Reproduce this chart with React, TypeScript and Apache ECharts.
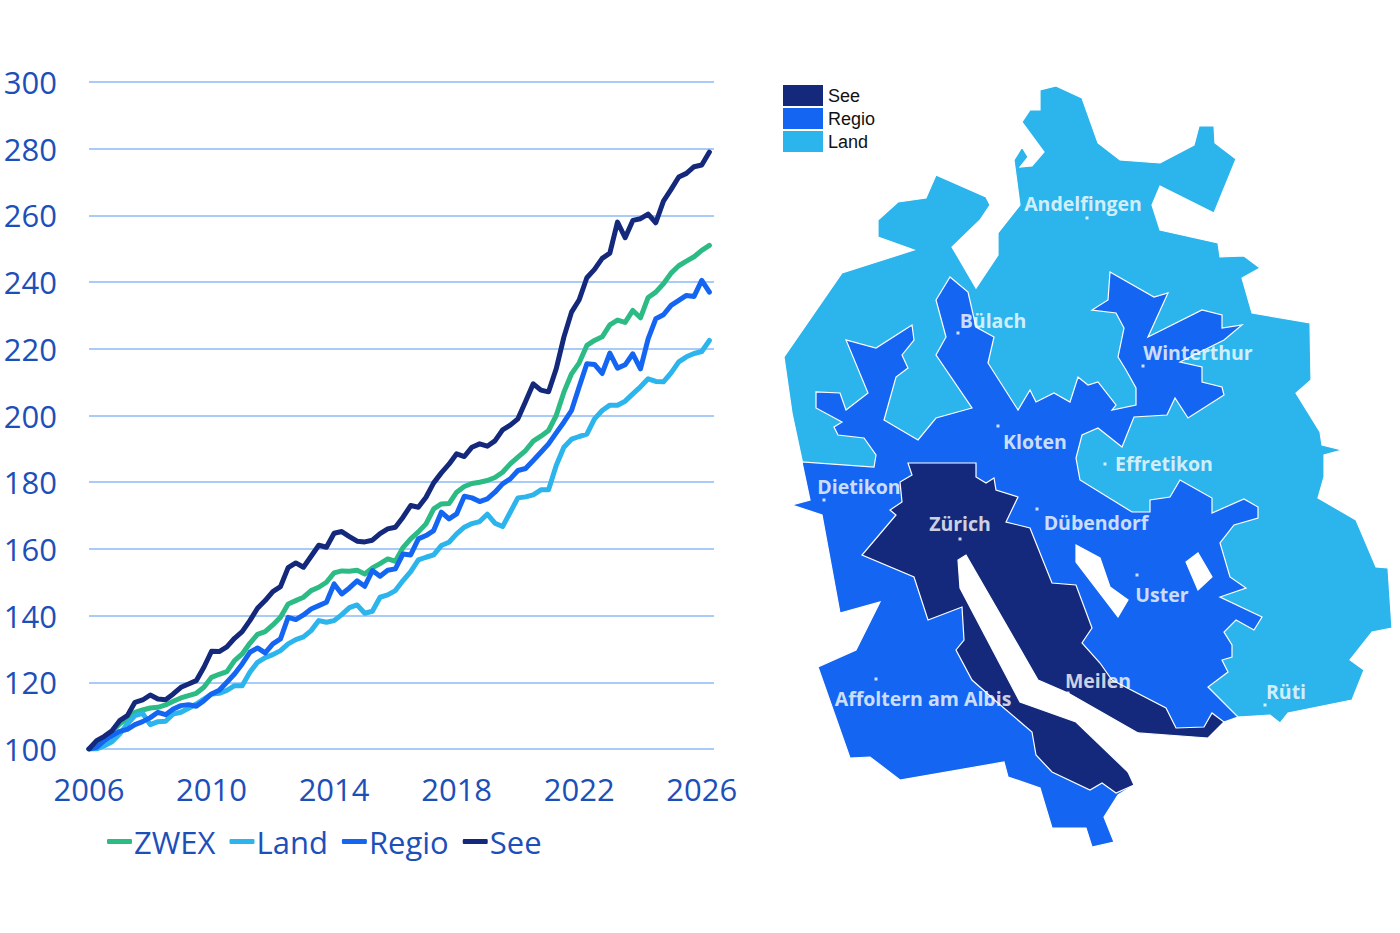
import React, { useEffect, useRef } from "react";
import * as echarts from "echarts";

// ---------- Line chart data (quarterly index, 2006 Q1 = 100) ----------
const START_YEAR = 2006;
const SERIES_NAMES = ["ZWEX", "Land", "Regio", "See"];
const X_TICK_YEARS = [2006, 2010, 2014, 2018, 2022, 2026];
const Y_TICKS = [100, 120, 140, 160, 180, 200, 220, 240, 260, 280, 300];

const ZWEX = [
  100, 101.5, 103.5, 105.2, 107.5, 109, 111, 111.7, 112.3, 112.5, 113.2, 114.3,
  115.3, 116, 116.7, 118.5, 121.5, 122.4, 123.2, 126.5, 128.5, 131.7, 134.4, 135.2,
  137.2, 139.5, 143.5, 144.5, 145.5, 147.5, 148.5, 150, 152.8, 153.4, 153.3, 153.6,
  152.5, 154.3, 155.6, 157, 156.3, 160.4, 163, 165.1, 167.5, 172, 173.5, 173.6,
  177, 178.7, 179.6, 180, 180.5, 181.4, 183, 185.5, 187.5, 189.5, 192.3, 193.8,
  195.5, 200, 207, 212.5, 215.8, 221, 222.5, 223.6, 227.2, 228.6, 227.9, 231.5,
  229.3, 235.4, 237, 239.5, 242.7, 244.9, 246.3, 247.6, 249.5, 251,
];
const LAND = [
  100, 100, 101, 102.2, 104.5, 107.5, 110, 110.7, 107.3, 108.2, 108.3, 110.5,
  111, 112.2, 113.5, 115, 116.5, 116.7, 117.6, 119, 119, 123, 126, 127.4,
  128.3, 129.5, 131.5, 132.8, 133.6, 135.5, 138.5, 138, 138.5, 140.3, 142.4, 143.2,
  140.7, 141.3, 145.5, 146.2, 147.5, 150.5, 153.2, 156.7, 157.5, 158.2, 161, 162,
  164.5, 166.5, 167.6, 168.2, 170.4, 167.7, 166.7, 171, 175.3, 175.6, 176.2, 177.7,
  177.7, 185, 190.5, 192.9, 193.7, 194.4, 199, 201.5, 203.1, 203.1, 204.3, 206.5,
  208.6, 211, 210.2, 210.1, 212.8, 216.1, 217.6, 218.6, 219.2, 222.5,
];
const REGIO = [
  100, 100.5, 102.5, 104, 105.3, 105.9, 107.3, 108.2, 109.4, 111, 110.3, 112,
  113, 113.3, 112.8, 114.5, 116.5, 117.6, 120, 122.5, 125.5, 129, 130.3, 128.8,
  131.5, 133, 139.5, 138.8, 140.2, 142, 143, 144, 149.5, 146.5, 148.3, 150.4,
  148.8, 153.5, 151.8, 153.6, 154, 158.5, 158.2, 163, 164, 165.5, 171, 169,
  170.5, 175.8, 175.3, 174.2, 175, 177, 179.5, 181, 183.5, 184.1, 186.5, 189,
  191.5, 194.8, 198, 201.5, 208.6, 215.5, 215.3, 212.6, 218.7, 214.2, 215.2, 218.5,
  214, 223, 229, 230.2, 233, 234.5, 236, 235.7, 240.5, 237,
];
const SEE = [
  100, 102.5, 103.8, 105.5, 108.5, 110, 114, 114.7, 116.2, 115, 114.8, 116.5,
  118.5, 119.5, 120.5, 124.5, 129.3, 129.2, 130.6, 133.2, 135.2, 138.5, 142.2, 144.5,
  147.2, 148.7, 154.4, 155.8, 154.5, 157.8, 161.1, 160.5, 164.7, 165.2, 163.7, 162.3,
  162.1, 162.6, 164.6, 166, 166.5, 169.5, 173, 172.5, 175.5, 179.8, 182.8, 185.4,
  188.5, 187.7, 190.5, 191.5, 190.8, 192.4, 195.7, 197.1, 199, 204.2, 209.5, 207.6,
  207.1, 214, 223.5, 231, 234.7, 241.3, 243.8, 247.1, 248.7, 258, 253.3, 258.5,
  259, 260.4, 257.8, 264.3, 267.8, 271.5, 272.6, 274.6, 275.1, 279,
];
const SERIES_VALUES = [ZWEX, LAND, REGIO, SEE];
const SERIES_COLORS = ["#2dbb85", "#2cb4ec", "#1466f2", "#14297b"];

// ---------- Map data (region outlines, screen units) ----------
const MAP_CATEGORIES = ["See", "Regio", "Land"];
const LAND_OUTLINE = [
  [1040, 90], [1056, 86], [1082, 98], [1098, 143], [1120, 160], [1160, 163], [1194, 145],
  [1199, 126], [1214, 126], [1215, 143], [1236, 159], [1214, 213], [1160, 186], [1152, 205],
  [1160, 230], [1218, 243], [1220, 257], [1244, 256], [1260, 268], [1242, 278], [1252, 313],
  [1310, 323], [1311, 380], [1296, 393], [1320, 432], [1322, 445], [1342, 450], [1324, 455],
  [1324, 477], [1318, 498], [1356, 520], [1376, 567], [1388, 568], [1392, 628], [1372, 632],
  [1350, 660], [1364, 670], [1352, 700], [1288, 713], [1280, 723], [1270, 715], [1238, 717],
  [1224, 722], [1208, 738], [1138, 733], [1128, 772], [1134, 785], [1118, 795], [1104, 817],
  [1114, 842], [1092, 847], [1086, 828], [1052, 828], [1040, 788], [1008, 777], [1004, 762],
  [900, 780], [870, 757], [850, 758], [818, 667], [856, 650], [880, 602], [840, 613],
  [822, 515], [792, 505], [810, 500], [802, 460], [792, 413], [784, 357], [842, 273],
  [914, 250], [878, 237], [878, 220], [898, 202], [926, 198], [936, 175], [986, 197],
  [990, 205], [980, 220], [952, 247], [976, 288], [998, 255], [998, 233], [1020, 205],
  [1014, 160], [1022, 147], [1028, 157], [1020, 167], [1032, 166], [1044, 152], [1022, 122],
  [1030, 110], [1040, 110],
];
const REGIO_OUTLINE = [
  [792, 505], [810, 500], [802, 462], [874, 467], [876, 455], [864, 438], [838, 435],
  [834, 427], [842, 422], [816, 408], [816, 392], [840, 393], [846, 410], [868, 393],
  [846, 340], [876, 348], [912, 325], [914, 340], [902, 355], [908, 368], [896, 377],
  [884, 420], [918, 440], [936, 418], [972, 408], [936, 355], [946, 337], [936, 300],
  [950, 277], [968, 292], [976, 327], [994, 337], [988, 363], [1018, 410], [1030, 390],
  [1036, 402], [1054, 393], [1070, 402], [1078, 377], [1088, 385], [1098, 382], [1116, 405],
  [1112, 410], [1136, 405], [1136, 388], [1126, 370], [1118, 357], [1124, 328], [1116, 313],
  [1092, 310], [1108, 300], [1110, 272], [1154, 297], [1168, 293], [1148, 337], [1202, 310],
  [1222, 315], [1222, 328], [1242, 325], [1224, 340], [1180, 362], [1202, 367], [1202, 382],
  [1222, 387], [1224, 395], [1188, 418], [1175, 398], [1167, 415], [1134, 417], [1122, 447],
  [1098, 428], [1082, 435], [1076, 458], [1080, 480], [1132, 512], [1150, 512], [1150, 500],
  [1170, 497], [1180, 480], [1212, 498], [1212, 513], [1244, 499], [1258, 507], [1258, 518],
  [1234, 525], [1220, 543], [1230, 577], [1246, 588], [1220, 597], [1262, 617], [1254, 630],
  [1236, 620], [1224, 632], [1232, 645], [1232, 657], [1222, 660], [1228, 672], [1208, 687],
  [1238, 717], [1224, 722], [1208, 738], [1138, 733], [1128, 772], [1134, 785], [1118, 795],
  [1104, 817], [1114, 842], [1092, 847], [1086, 828], [1052, 828], [1040, 788], [1008, 777],
  [1004, 762], [900, 780], [870, 757], [850, 758], [818, 667], [856, 650], [880, 602],
  [840, 613], [822, 515],
];
const SEE_OUTLINE = [
  [908, 463], [976, 463], [976, 477], [986, 483], [994, 478], [996, 490], [1018, 497],
  [1006, 522], [1030, 528], [1052, 583], [1076, 585], [1092, 628], [1082, 643], [1100, 663],
  [1112, 680], [1166, 708], [1176, 728], [1204, 727], [1212, 713], [1224, 722], [1208, 738],
  [1138, 733], [1128, 772], [1134, 785], [1116, 793], [1102, 783], [1090, 790], [1052, 772],
  [1036, 755], [1032, 732], [998, 703], [972, 680], [956, 650], [964, 640], [962, 607],
  [928, 620], [914, 577], [862, 555], [896, 515], [890, 510], [902, 502], [900, 482],
  [912, 475],
];
const ZUERICHSEE = [
  [966, 555], [1038, 680], [1068, 693], [1138, 733], [1160, 755], [1128, 772], [1076, 722],
  [1020, 702], [960, 588], [958, 560],
];
const GREIFENSEE = [[1076, 545], [1100, 558], [1110, 587], [1128, 600], [1118, 617], [1076, 562]];
const PFAEFFIKERSEE = [[1186, 562], [1198, 553], [1212, 577], [1198, 590]];

const REGIONS = [
  { name: "Land", ring: LAND_OUTLINE, color: "#2cb4ec" },
  { name: "Regio", ring: REGIO_OUTLINE, color: "#1466f2" },
  { name: "See", ring: SEE_OUTLINE, color: "#14297b" },
  { name: "Zürichsee", ring: ZUERICHSEE, color: "#ffffff" },
  { name: "Greifensee", ring: GREIFENSEE, color: "#ffffff" },
  { name: "Pfäffikersee", ring: PFAEFFIKERSEE, color: "#ffffff" },
];

const CITIES = [
  { name: "Andelfingen", pos: [1087, 218], off: [-4, -15] },
  { name: "Bülach", pos: [958, 333], off: [35, -13] },
  { name: "Winterthur", pos: [1143, 366], off: [55, -14] },
  { name: "Kloten", pos: [998, 426], off: [37, 15] },
  { name: "Effretikon", pos: [1105, 464], off: [59, -1] },
  { name: "Dietikon", pos: [824, 500], off: [35, -14] },
  { name: "Zürich", pos: [960, 539], off: [0, -16] },
  { name: "Dübendorf", pos: [1037, 509], off: [59, 13] },
  { name: "Uster", pos: [1137, 575], off: [25, 19] },
  { name: "Meilen", pos: [1068, 693], off: [30, -13] },
  { name: "Affoltern am Albis", pos: [876, 679], off: [47, 19] },
  { name: "Rüti", pos: [1265, 705], off: [21, -14] },
];

const TEXT_BLUE = "#1d4fb9";
const FONT = "'Open Sans', 'Noto Sans', sans-serif";

function buildGeoJson() {
  return {
    type: "FeatureCollection",
    features: REGIONS.map((r) => {
      const ring = r.ring.map(([x, y]) => [x, -y]);
      ring.push(ring[0]);
      return {
        type: "Feature",
        properties: { name: r.name },
        geometry: { type: "Polygon", coordinates: [ring] },
      };
    }),
  };
}

function bbox() {
  let minX = Infinity, minY = Infinity, maxX = -Infinity, maxY = -Infinity;
  REGIONS.forEach((r) =>
    r.ring.forEach(([x, y]) => {
      minX = Math.min(minX, x); maxX = Math.max(maxX, x);
      minY = Math.min(minY, y); maxY = Math.max(maxY, y);
    })
  );
  return { minX, minY, w: maxX - minX, h: maxY - minY };
}

export default function App() {
  const ref = useRef<HTMLDivElement>(null);
  useEffect(() => {
    if (!ref.current) return;
    echarts.registerMap("zh_regions", buildGeoJson() as any);
    const chart = echarts.init(ref.current, undefined, { renderer: "svg" });
    const b = bbox();
    const xMaxYears = 20.4;
    const lineSeries = SERIES_NAMES.map((name, si) => ({
      name,
      type: "line",
      data: SERIES_VALUES[si].map((v, i) => [i / 4, v]),
      showSymbol: false,
      symbol: "none",
      smooth: false,
      color: SERIES_COLORS[si],
      lineStyle: { width: 5, color: SERIES_COLORS[si], cap: "round", join: "round" },
      silent: true,
      z: 2 + si,
    }));
    chart.setOption({
      animation: false,
      grid: { left: 89, top: 82, width: 625, height: 667, containLabel: false, outerBoundsMode: "none" },
      xAxis: {
        type: "value",
        min: 0,
        max: xMaxYears,
        interval: 4,
        axisLine: { show: false },
        axisTick: { show: false },
        splitLine: { show: false },
        axisLabel: {
          fontSize: 31,
          color: TEXT_BLUE,
          fontFamily: FONT,
          margin: 24,
          formatter: (v: number) => {
            const yr = START_YEAR + v;
            return X_TICK_YEARS.includes(Math.round(yr * 1000) / 1000) ? String(yr) : "";
          },
        },
      },
      yAxis: {
        type: "value",
        min: Y_TICKS[0],
        max: Y_TICKS[Y_TICKS.length - 1],
        interval: 20,
        axisLine: { show: false },
        axisTick: { show: false },
        splitLine: { lineStyle: { color: "#a9cbf7", width: 2 } },
        axisLabel: { fontSize: 31, color: TEXT_BLUE, fontFamily: FONT, margin: 32 },
      },
      legend: [
        {
          data: SERIES_NAMES,
          left: 107,
          top: 826,
          padding: 0,
          orient: "horizontal",
          icon: "roundRect",
          itemWidth: 25,
          itemHeight: 5,
          itemGap: 14,
          selectedMode: false,
          itemStyle: { borderWidth: 0 },
          textStyle: { fontSize: 31, color: TEXT_BLUE, fontFamily: FONT, padding: [0, 0, 0, -3] },
        },
        {
          data: MAP_CATEGORIES,
          left: 783,
          top: 85,
          padding: 0,
          orient: "vertical",
          icon: "rect",
          itemWidth: 40,
          itemHeight: 21,
          itemGap: 2,
          selectedMode: false,
          itemStyle: { borderWidth: 0 },
          textStyle: { fontSize: 18, color: "#111111", fontFamily: "'Liberation Sans', Arial, sans-serif" },
        },
      ],
      geo: {
        map: "zh_regions",
        roam: false,
        silent: true,
        aspectScale: 1,
        left: b.minX,
        top: b.minY,
        width: b.w,
        height: b.h,
        label: { show: false },
        emphasis: { disabled: true },
        select: { disabled: true },
        itemStyle: { borderColor: "#ffffff", borderWidth: 1.2 },
        regions: REGIONS.map((r) => ({
          name: r.name,
          itemStyle: { areaColor: r.color, borderColor: "#ffffff", borderWidth: 1.2 },
        })),
      },
      series: [
        ...lineSeries,
        {
          name: "Orte",
          type: "scatter",
          coordinateSystem: "geo",
          geoIndex: 0,
          symbol: "rect",
          symbolSize: 3,
          silent: true,
          itemStyle: { color: "#ffffff" },
          z: 10,
          data: CITIES.map((c) => ({
            name: c.name,
            value: [c.pos[0], -c.pos[1]],
            label: { offset: c.off },
          })),
          label: {
            show: true,
            position: "inside",
            formatter: "{b}",
            color: "#ffffff",
            fontSize: 19.5,
            fontWeight: "bold",
            fontFamily: FONT,
            align: "center",
            verticalAlign: "middle",
          },
        },
      ],
    } as any);
    return () => chart.dispose();
  }, []);
  return (
    <div
      ref={ref}
      style={{ position: "absolute", left: 0, top: 0, width: 1400, height: 933, background: "#ffffff" }}
    />
  );
}
